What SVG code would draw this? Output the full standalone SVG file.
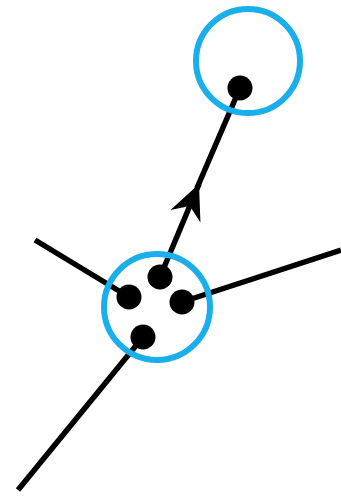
<svg xmlns="http://www.w3.org/2000/svg" width="341" height="496" viewBox="0 0 341 496">
<style>
.edge{stroke:#000;stroke-width:5.5;fill:none;stroke-linecap:butt}
.ring{fill:none;stroke:#1aaeea;stroke-width:6}
.dot{fill:#000}
</style>
<defs>
<marker id="arr" markerUnits="userSpaceOnUse" markerWidth="40" markerHeight="40" viewBox="-30 -15 32 30" refX="0" refY="0" orient="auto">
<path d="M0,0 L-28,-13 L-19,0 L-28,13 Z" fill="#000"/>
</marker>
</defs>
<g id="connectors">
<path class="edge" d="M160,277 L199,184" marker-end="url(#arr)"/>
<path class="edge" d="M197,188 L240,88"/>
<path class="edge" d="M35,240 L129,297"/>
<path class="edge" d="M182,302 L341,250"/>
<path class="edge" d="M143,337 L18,490"/>
</g>
<g id="top-node">
<circle class="ring" cx="248" cy="61" r="52"/>
<circle class="dot" cx="240" cy="88" r="12.5"/>
</g>
<g id="bottom-node">
<circle class="ring" cx="157" cy="307" r="53"/>
<circle class="dot" cx="160" cy="277" r="12.5"/>
<circle class="dot" cx="129" cy="297" r="12.5"/>
<circle class="dot" cx="182" cy="302" r="12.5"/>
<circle class="dot" cx="143" cy="337" r="12.5"/>
</g>
</svg>
